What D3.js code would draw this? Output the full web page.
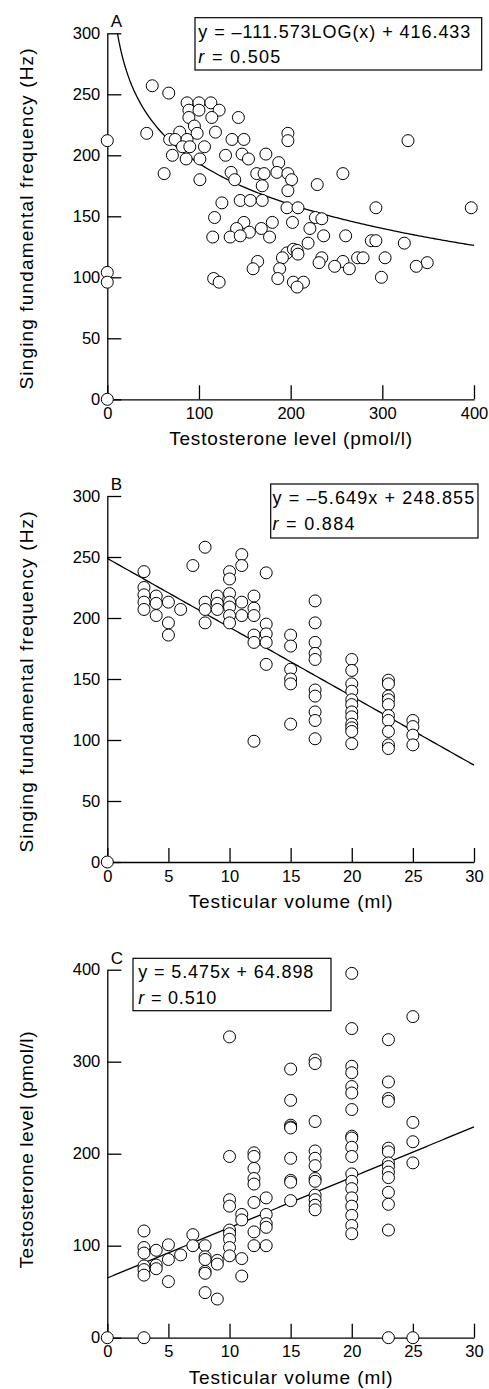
<!DOCTYPE html>
<meta charset="utf-8">
<title>Singing frequency, testosterone and testicular volume</title>
<body>
<script src="https://cdn.jsdelivr.net/npm/d3@7"></script>
<style>
  html, body {
    margin: 0;
    background: #fff;
  }
  svg { display: block; }
  text { font-family: "Liberation Sans", Arial, Helvetica, sans-serif; fill: #000; }
</style>
<script>
  // Panel A: testosterone level (pmol/l) against singing F0 (Hz)
  var testoA = [0, 0, 0, 0,
    49, 67, 87, 100, 113, 89, 100, 122, 89, 114, 143, 95, 43, 79, 98, 118, 197,
    68, 74, 87, 136, 149, 197, 328, 82, 90, 106, 71, 86, 101, 129, 147, 154, 173, 187,
    62, 101, 135, 139, 163, 171, 185, 197, 201, 257, 169, 197, 229,
    125, 145, 156, 169, 196, 208, 293, 397, 117, 227, 234, 149, 180, 202, 141, 168, 221,
    155, 115, 134, 145, 177, 236, 260, 219, 288, 293, 324, 196, 203, 207, 208, 191, 234,
    273, 279, 303, 164, 231, 257, 349, 248, 337, 159, 188, 264, 116, 186, 299, 122, 203,
    214, 207];
  var freqA = [212, 104, 96, 0,
    257, 251, 243, 243, 243, 237, 237, 237, 231, 231, 231, 224, 218, 219, 218, 219, 218,
    213, 213, 213, 213, 213, 212, 212, 207, 207, 207, 200, 197, 197, 200, 201, 197, 201, 194,
    185, 180, 186, 180, 185, 185, 186, 185, 180, 185, 175, 171, 176,
    161, 163, 163, 163, 157, 157, 157, 157, 149, 149, 148, 145, 145, 145, 140, 140, 140,
    137, 133, 133, 134, 133, 134, 134, 128, 130, 130, 128, 120, 123, 122, 119, 116, 116,
    116, 116, 116, 113, 112, 113, 112, 109, 109, 107, 107, 107, 99, 99, 100, 96, 96,
    96, 92];

  // Panel B: testicular volume (ml) against singing F0 (Hz)
  var volumeB = [0, 3, 3, 3, 3, 3, 4, 4, 4, 5, 5, 5, 6, 7, 8, 8, 8, 8, 9, 9, 9,
    10, 10, 10, 10, 10, 10, 10, 11, 11, 11, 11, 12, 12, 12, 12, 12, 12,
    13, 13, 13, 13, 13, 15, 15, 15, 15, 15, 15,
    17, 17, 17, 17, 17, 17, 17, 17, 17, 17,
    20, 20, 20, 20, 20, 20, 20, 20, 20, 20, 20, 20,
    23, 23, 23, 23, 23, 23, 23, 23, 23, 23, 25, 25, 25, 25];
  var freqB = [0, 238, 225, 219, 213, 207, 218, 212, 202, 213, 196, 186, 207, 243, 258, 213, 207, 196, 218, 212, 207,
    238, 232, 220, 213, 209, 202, 196, 252, 243, 213, 202, 218, 208, 202, 186, 180, 99,
    237, 195, 187, 180, 162, 186, 177, 158, 150, 146, 113,
    214, 196, 180, 171, 166, 141, 136, 123, 116, 101,
    166, 157, 146, 140, 133, 129, 123, 119, 113, 110, 107, 97,
    149, 146, 136, 133, 129, 120, 116, 107, 96, 93, 116, 111, 104, 96];

  // Panel C: testicular volume (ml) against testosterone level (pmol/l)
  var volumeC = [0, 3, 3, 3, 3, 3, 3, 3, 4, 4, 4, 5, 5, 5, 6, 7, 7, 8, 8, 8, 8, 8, 8, 9, 9, 9,
    10, 10, 10, 10, 10, 10, 10, 10, 10, 11, 11, 11, 11, 12, 12, 12, 12, 12, 12, 12, 12,
    13, 13, 13, 13, 13, 15, 15, 15, 15, 15, 15, 15, 15, 15,
    17, 17, 17, 17, 17, 17, 17, 17, 17, 17, 17, 17,
    20, 20, 20, 20, 20, 20, 20, 20, 20, 20, 20, 20, 20, 20, 20, 20, 20, 20, 20,
    23, 23, 23, 23, 23, 23, 23, 23, 23, 23, 23, 23, 23, 23, 25, 25, 25, 25, 25];
  var testoC = [0, 116, 98, 92, 78, 74, 68, 0, 95, 79, 75, 101, 85, 61, 90, 112, 100, 100, 88, 85, 72, 70, 49, 84, 80, 42,
    327, 197, 150, 143, 117, 113, 107, 98, 89, 134, 128, 86, 67, 201, 197, 184, 173, 167, 147, 115, 100,
    152, 134, 124, 120, 100, 292, 258, 231, 229, 228, 195, 171, 169, 149,
    302, 298, 235, 203, 195, 187, 173, 170, 155, 150, 144, 139,
    396, 336, 295, 288, 273, 266, 248, 219, 217, 207, 197, 178, 170, 162, 152, 143, 133, 122, 113,
    324, 278, 260, 257, 206, 202, 190, 186, 180, 174, 158, 145, 117, 0, 349, 234, 213, 190, 0];

  var freqTicks = [0, 50, 100, 150, 200, 250, 300];
  var testoTicks = [0, 100, 200, 300, 400];
  var volumeTicks = [0, 5, 10, 15, 20, 25, 30];

  var svg = d3.select("body").append("svg")
    .attr("width", 489)
    .attr("height", 1389);

  var left = 107.3, right = 474;

  var panels = [
    { letter: "A", xs: testoA, ys: freqA, xTicks: testoTicks, yTicks: freqTicks,
      top: 33.3, bottom: 399.3,
      fit: function(x) { return -111.573 * Math.log10(x) + 416.433; }, fitFrom: 11.06,
      eq: "y = \u2013111.573LOG(x) + 416.433", r: "0.505",
      box: [195, 17.7, 286.7, 52.3], textX: 198.3, eqLen: 272, rLen: 82,
      xTitle: "Testosterone level (pmol/l)", xTitleLen: 243,
      yTitle: "Singing fundamental frequency (Hz)", yTitleLen: 341, yTitleMid: 219 },
    { letter: "B", xs: volumeB, ys: freqB, xTicks: volumeTicks, yTicks: freqTicks,
      top: 496, bottom: 862,
      fit: function(x) { return -5.649 * x + 248.855; }, fitFrom: 0,
      eq: "y = \u20135.649x + 248.855", r: "0.884",
      box: [270.7, 484, 207.3, 54], textX: 272.5, eqLen: 201.7, rLen: 82,
      xTitle: "Testicular volume (ml)", xTitleLen: 204,
      yTitle: "Singing fundamental frequency (Hz)", yTitleLen: 341, yTitleMid: 682 },
    { letter: "C", xs: volumeC, ys: testoC, xTicks: volumeTicks, yTicks: testoTicks,
      top: 969.7, bottom: 1337.7,
      fit: function(x) { return 5.475 * x + 64.898; }, fitFrom: 0,
      eq: "y = 5.475x + 64.898", r: "0.510",
      box: [133, 958.3, 198, 52.4], textX: 138.3, eqLen: 175, rLen: 78,
      xTitle: "Testicular volume (ml)", xTitleLen: 204,
      yTitle: "Testosterone level (pmol/l)", yTitleLen: 237, yTitleMid: 1150 }
  ];

  panels.forEach(function(p) {
    var xMax = d3.max(p.xTicks), yMax = d3.max(p.yTicks);
    var x = d3.scaleLinear().domain([0, xMax]).range([left, right]);
    var y = d3.scaleLinear().domain([0, yMax]).range([p.bottom, p.top]);
    var g = svg.append("g");

    // axes, ticks pointing inward
    var yAxis = g.append("g")
      .attr("transform", "translate(" + left + ",0)")
      .call(d3.axisLeft(y).tickValues(p.yTicks).tickSizeInner(-14).tickSizeOuter(0).tickPadding(7));
    var xAxis = g.append("g")
      .attr("transform", "translate(0," + p.bottom + ")")
      .call(d3.axisBottom(x).tickValues(p.xTicks).tickSizeInner(-14).tickSizeOuter(0).tickPadding(8));
    [xAxis, yAxis].forEach(function(a) {
      a.attr("font-size", null).attr("font-family", null);
      a.selectAll("path, line").attr("stroke", "#000").attr("stroke-width", 1.3);
      a.selectAll("text").style("font-size", "16.5px");
    });

    // fitted curve
    var lo = p.fitFrom, step = (xMax - lo) / 200;
    var fitPts = d3.range(lo, xMax + step / 2, step).map(function(v) { return [v, p.fit(v)]; });
    g.append("path")
      .datum(fitPts)
      .attr("fill", "none")
      .attr("stroke", "#000")
      .attr("stroke-width", 1.3)
      .attr("d", d3.line().x(function(d) { return x(d[0]); }).y(function(d) { return y(d[1]); }));

    // points
    g.selectAll("circle")
      .data(d3.range(p.xs.length))
      .enter().append("circle")
      .attr("cx", function(i) { return x(p.xs[i]); })
      .attr("cy", function(i) { return y(p.ys[i]); })
      .attr("r", 6)
      .attr("fill", "#fff")
      .attr("stroke", "#000")
      .attr("stroke-width", 1);

    // equation box
    g.append("rect")
      .attr("x", p.box[0]).attr("y", p.box[1])
      .attr("width", p.box[2]).attr("height", p.box[3])
      .attr("fill", "#fff").attr("stroke", "#000").attr("stroke-width", 1.2);
    g.append("text")
      .attr("x", p.textX).attr("y", p.box[1] + 20)
      .attr("textLength", p.eqLen).attr("lengthAdjust", "spacing")
      .style("font-size", "18px")
      .text(p.eq);
    var rt = g.append("text")
      .attr("x", p.textX).attr("y", p.box[1] + 45.6)
      .attr("textLength", p.rLen).attr("lengthAdjust", "spacing")
      .style("font-size", "18px");
    rt.append("tspan").style("font-style", "italic").text("r");
    rt.append("tspan").text(" = " + p.r);

    // panel letter
    g.append("text")
      .attr("x", left + 3.5).attr("y", p.top - 6)
      .style("font-size", "17px")
      .text(p.letter);

    // axis titles
    g.append("text")
      .attr("x", (left + right) / 2).attr("y", p.bottom + 46)
      .attr("text-anchor", "middle")
      .attr("textLength", p.xTitleLen).attr("lengthAdjust", "spacing")
      .style("font-size", "19px")
      .text(p.xTitle);
    g.append("text")
      .attr("transform", "translate(33," + p.yTitleMid + ") rotate(-90)")
      .attr("text-anchor", "middle")
      .attr("textLength", p.yTitleLen).attr("lengthAdjust", "spacing")
      .style("font-size", "19px")
      .text(p.yTitle);
  });
</script>
